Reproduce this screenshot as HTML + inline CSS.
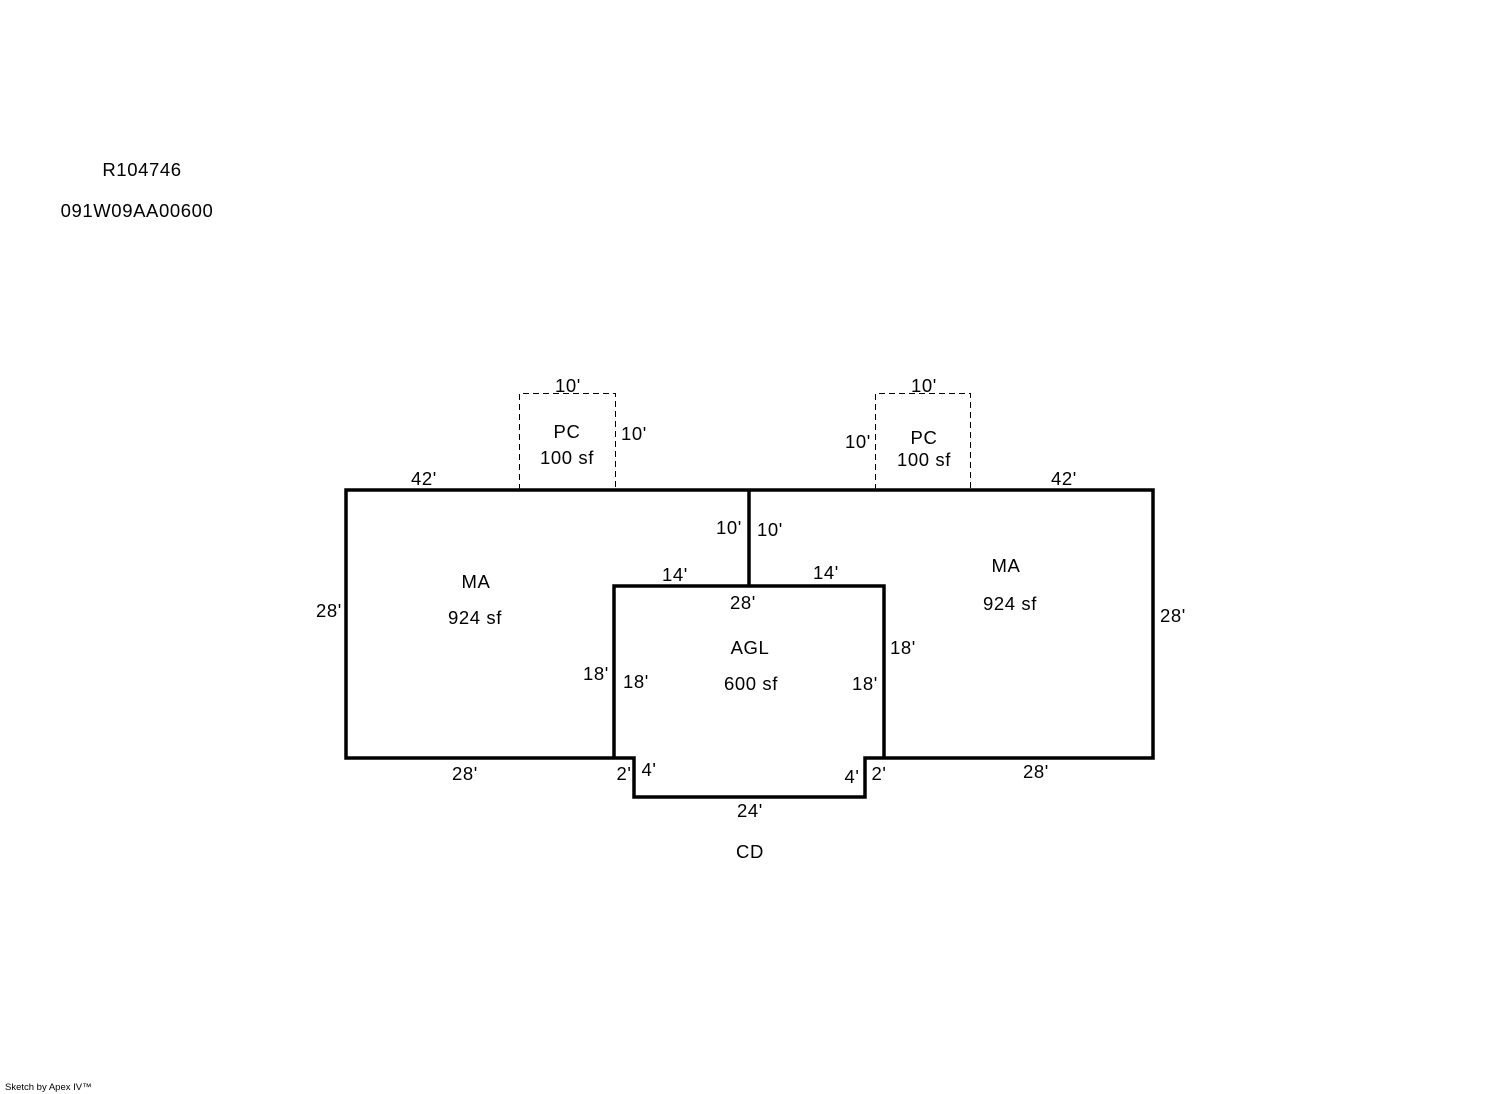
<!DOCTYPE html>
<html><head><meta charset="utf-8"><style>
html,body{margin:0;padding:0;background:#fff;}
svg{display:block;}
text{font-family:"Liberation Sans",Arial,sans-serif;font-size:18.5px;letter-spacing:0.6px;fill:#000;}
</style></head><body>
<svg width="1492" height="1094" viewBox="0 0 1492 1094" xmlns="http://www.w3.org/2000/svg">
<g fill="none" stroke="#000" stroke-width="1" stroke-dasharray="6,4">
<polyline points="519.5,490 519.5,393.5 615.5,393.5 615.5,490"/>
<polyline points="875.5,490 875.5,393.5 970.5,393.5 970.5,490"/>
</g>
<g fill="none" stroke="#000" stroke-width="3.5" stroke-linejoin="miter">
<polyline points="749,490 346,490 346,758 614,758"/>
<polyline points="749,490 1153,490 1153,758 884,758"/>
<line x1="749" y1="490" x2="749" y2="586"/>
<polyline points="614,758 614,586 884,586 884,758"/>
<polyline points="614,758 634,758 634,797 865,797 865,758 884,758"/>
</g>
<g text-anchor="middle">
<text x="142" y="176">R104746</text>
<text x="137" y="217">091W09AA00600</text>
<text x="568" y="392">10'</text>
<text x="634" y="440">10'</text>
<text x="567" y="438">PC</text>
<text x="567" y="464">100 sf</text>
<text x="924" y="392">10'</text>
<text x="858" y="448">10'</text>
<text x="924" y="444">PC</text>
<text x="924" y="466">100 sf</text>
<text x="424" y="485">42'</text>
<text x="1064" y="485">42'</text>
<text x="729" y="534">10'</text>
<text x="770" y="536">10'</text>
<text x="675" y="581">14'</text>
<text x="826" y="579">14'</text>
<text x="743" y="609">28'</text>
<text x="476" y="588">MA</text>
<text x="475" y="624">924 sf</text>
<text x="1006" y="572">MA</text>
<text x="1010" y="610">924 sf</text>
<text x="329" y="617">28'</text>
<text x="1173" y="622">28'</text>
<text x="750" y="654">AGL</text>
<text x="751" y="690">600 sf</text>
<text x="596" y="680">18'</text>
<text x="636" y="688">18'</text>
<text x="903" y="654">18'</text>
<text x="865" y="690">18'</text>
<text x="465" y="780">28'</text>
<text x="1036" y="778">28'</text>
<text x="624" y="780">2'</text>
<text x="649" y="776">4'</text>
<text x="852" y="783">4'</text>
<text x="879" y="780">2'</text>
<text x="750" y="817">24'</text>
<text x="750" y="858">CD</text>
</g>
<text x="5" y="1090" style="font-size:9.5px;letter-spacing:0">Sketch by Apex IV™</text>
</svg>
</body></html>
